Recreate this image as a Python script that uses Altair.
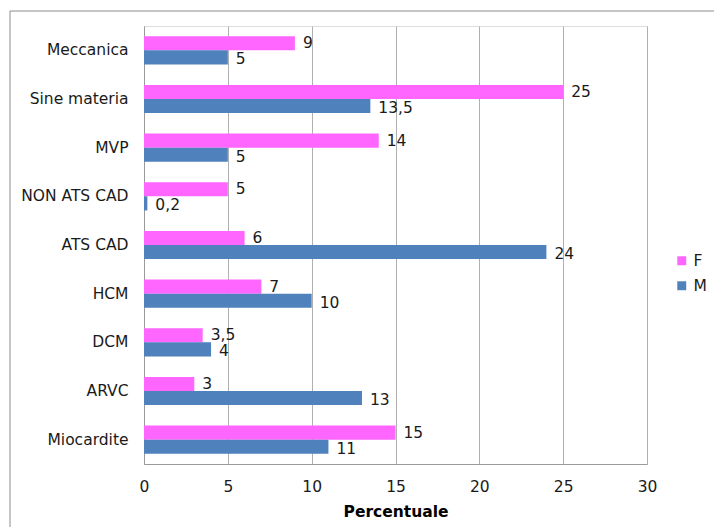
import altair as alt
import pandas as pd

categories = ["Meccanica", "Sine materia", "MVP", "NON ATS CAD", "ATS CAD", "HCM", "DCM", "ARVC", "Miocardite"]
f_values = [9, 25, 14, 5, 6, 7, 3.5, 3, 15]
m_values = [5, 13.5, 5, 0.2, 24, 10, 4, 13, 11]
series = ["F", "M"]
colors = ["#FF66FF", "#4F81BD"]
x_ticks = [0, 5, 10, 15, 20, 25, 30]

rows = []
for c, fv, mv in zip(categories, f_values, m_values):
    rows.append({"cat": c, "series": "F", "value": fv, "label": f"{fv:g}".replace(".", ",")})
    rows.append({"cat": c, "series": "M", "value": mv, "label": f"{mv:g}".replace(".", ",")})
df = pd.DataFrame(rows)

FONT = "DejaVu Sans"
FS = 15.5
W, H = 503, 438

yenc = alt.Y("cat:N", sort=categories, title=None,
             scale=alt.Scale(paddingInner=0.42, paddingOuter=0.21),
             axis=alt.Axis(labelFontSize=FS, labelColor="#1a1a1a", labelFont=FONT,
                           ticks=False, labelPadding=16, domain=True, domainColor="#9a9a9a"))
yoff = alt.YOffset("series:N", sort=series, scale=alt.Scale(paddingInner=0, paddingOuter=0))
xenc = alt.X("value:Q", title="Percentuale",
             scale=alt.Scale(domain=[0, 30], nice=False),
             axis=alt.Axis(values=x_ticks, labelFontSize=FS, labelColor="#1a1a1a", labelFont=FONT,
                           ticks=False, labelPadding=15, labelFlush=False, grid=True,
                           gridColor="#b0b0b0", domainColor="#9a9a9a", titleFont=FONT,
                           titleFontSize=FS, titleFontWeight="bold", titleColor="#000000",
                           titlePadding=10))

base = alt.Chart(df)

bars = base.mark_bar().encode(
    y=yenc, yOffset=yoff, x=xenc,
    color=alt.Color("series:N", sort=series, title=None,
                    scale=alt.Scale(domain=series, range=colors),
                    legend=alt.Legend(orient="none", legendX=530, legendY=227,
                                      symbolType="square", symbolSize=80, symbolStrokeWidth=0,
                                      labelFontSize=FS, labelFont=FONT, labelColor="#1a1a1a",
                                      rowPadding=8, labelOffset=4)),
)

text_base = dict(align="left", baseline="middle", dx=8, fontSize=FS, font=FONT, color="#1a1a1a")

labels_f = base.transform_filter(alt.datum.series == "F").mark_text(dy=0, **text_base).encode(
    y=alt.Y("cat:N", sort=categories), yOffset=yoff, x=alt.X("value:Q"), text="label:N",
)
labels_m = base.transform_filter(alt.datum.series == "M").mark_text(dy=2, **text_base).encode(
    y=alt.Y("cat:N", sort=categories), yOffset=yoff, x=alt.X("value:Q"), text="label:N",
)

border = alt.Chart(pd.DataFrame({"a": [0]})).mark_rect(
    fill=None, stroke="#8c8c8c", strokeWidth=1, clip=False
).encode(x=alt.value(-134), x2=alt.value(620), y=alt.value(-15), y2=alt.value(560))

chart = alt.layer(border, bars, labels_f, labels_m).properties(
    width=W, height=H,
    padding={"left": 144, "top": 26, "right": 67, "bottom": 63},
    autosize=alt.AutoSizeParams(type="none"),
).configure_view(stroke=None).configure(background="white")

chart.save("out.html", embed_options={"renderer": "svg", "actions": False})
